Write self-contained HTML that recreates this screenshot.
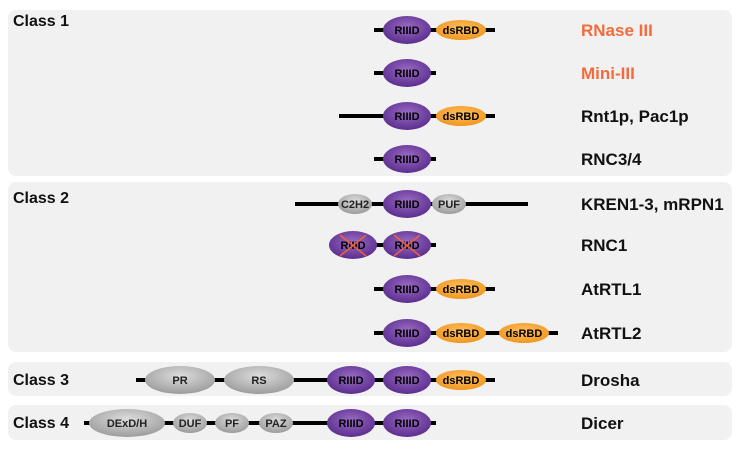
<!DOCTYPE html><html><head><style>body{margin:0;background:#fff}svg{display:block}</style></head><body>
<svg width="740" height="453" viewBox="0 0 740 453" xmlns="http://www.w3.org/2000/svg" font-family="Liberation Sans, sans-serif" font-weight="bold">
<defs>
<radialGradient id="p" cx="50%" cy="40%" r="60%"><stop offset="0" stop-color="#9a6cc4"/><stop offset="1" stop-color="#5b2d8e"/></radialGradient>
<radialGradient id="o" cx="50%" cy="40%" r="60%"><stop offset="0" stop-color="#ffc060"/><stop offset="1" stop-color="#f0961e"/></radialGradient>
<radialGradient id="g" cx="50%" cy="35%" r="65%"><stop offset="0" stop-color="#dcdcdc"/><stop offset="1" stop-color="#9c9c9c"/></radialGradient>
</defs>
<rect x="8" y="10" width="724" height="166" rx="8" fill="#f1f1f1"/>
<rect x="8" y="182" width="724" height="170" rx="8" fill="#f1f1f1"/>
<rect x="8" y="362" width="724" height="34" rx="8" fill="#f1f1f1"/>
<rect x="8" y="405" width="724" height="35" rx="8" fill="#f1f1f1"/>
<g font-size="16" fill="#111">
<text x="13" y="26">Class 1</text><text x="13" y="203">Class 2</text><text x="13" y="385">Class 3</text><text x="13" y="428">Class 4</text>
</g>
<g font-size="17" fill="#111">
<text x="581" y="36" fill="#f26b3a">RNase III</text>
<text x="581" y="79" fill="#f26b3a">Mini-III</text>
<text x="581" y="122">Rnt1p, Pac1p</text>
<text x="581" y="165">RNC3/4</text>
<text x="581" y="210">KREN1-3, mRPN1</text>
<text x="581" y="251">RNC1</text>
<text x="581" y="295">AtRTL1</text>
<text x="581" y="339">AtRTL2</text>
<text x="581" y="386">Drosha</text>
<text x="581" y="429">Dicer</text>
</g>
<g stroke="#000" stroke-width="4">
<line x1="374" y1="30" x2="495" y2="30"/><line x1="374" y1="73" x2="436" y2="73"/>
<line x1="339" y1="116" x2="495" y2="116"/><line x1="374" y1="159" x2="436" y2="159"/>
<line x1="295" y1="204" x2="528" y2="204"/><line x1="330" y1="245" x2="436" y2="245"/>
<line x1="374" y1="289" x2="495" y2="289"/><line x1="374" y1="333" x2="558" y2="333"/>
<line x1="136" y1="380" x2="495" y2="380"/><line x1="84" y1="423" x2="436" y2="423"/>
</g>
<g font-size="11" text-anchor="middle">
<g fill="url(#p)">
<ellipse cx="407" cy="30" rx="24" ry="14"/><ellipse cx="407" cy="73" rx="24" ry="14"/><ellipse cx="407" cy="116" rx="24" ry="14"/><ellipse cx="407" cy="159" rx="24" ry="14"/>
<ellipse cx="407" cy="204" rx="24" ry="14"/><ellipse cx="353" cy="245" rx="24" ry="14"/><ellipse cx="407" cy="245" rx="24" ry="14"/>
<ellipse cx="407" cy="289" rx="24" ry="14"/><ellipse cx="407" cy="333" rx="24" ry="14"/>
<ellipse cx="351" cy="380" rx="24" ry="14"/><ellipse cx="407" cy="380" rx="24" ry="14"/>
<ellipse cx="351" cy="423" rx="24" ry="14"/><ellipse cx="407" cy="423" rx="24" ry="14"/>
</g>
<g fill="#000">
<text x="407" y="34">RIIID</text><text x="407" y="77">RIIID</text><text x="407" y="120">RIIID</text><text x="407" y="163">RIIID</text>
<text x="407" y="208">RIIID</text><text x="353" y="249">RIIID</text><text x="407" y="249">RIIID</text>
<text x="407" y="293">RIIID</text><text x="407" y="337">RIIID</text>
<text x="351" y="384">RIIID</text><text x="407" y="384">RIIID</text><text x="351" y="427">RIIID</text><text x="407" y="427">RIIID</text>
</g>
<g stroke="#f2603a" stroke-width="1.5">
<line x1="340" y1="235" x2="366" y2="256"/><line x1="366" y1="235" x2="340" y2="256"/>
<line x1="394" y1="235" x2="420" y2="256"/><line x1="420" y1="235" x2="394" y2="256"/>
</g>
<g fill="url(#o)">
<ellipse cx="461" cy="30" rx="25" ry="10"/><ellipse cx="461" cy="116" rx="25" ry="10"/><ellipse cx="461" cy="289" rx="25" ry="10"/>
<ellipse cx="461" cy="333" rx="25" ry="10"/><ellipse cx="524" cy="333" rx="25" ry="10"/><ellipse cx="461" cy="380" rx="25" ry="10"/>
</g>
<g fill="#000">
<text x="461" y="34">dsRBD</text><text x="461" y="120">dsRBD</text><text x="461" y="293">dsRBD</text>
<text x="461" y="337">dsRBD</text><text x="524" y="337">dsRBD</text><text x="461" y="384">dsRBD</text>
</g>
<g fill="url(#g)">
<ellipse cx="355" cy="204" rx="17" ry="10"/><ellipse cx="449" cy="204" rx="17" ry="10"/>
<ellipse cx="180" cy="380" rx="35" ry="14"/><ellipse cx="259" cy="380" rx="35" ry="14"/>
<ellipse cx="127" cy="423" rx="38" ry="14"/><ellipse cx="190" cy="423" rx="17" ry="10"/><ellipse cx="232" cy="423" rx="17" ry="10"/><ellipse cx="276" cy="423" rx="17" ry="10"/>
</g>
<g fill="#222">
<text x="355" y="208">C2H2</text><text x="449" y="208">PUF</text>
<text x="180" y="384">PR</text><text x="259" y="384">RS</text>
<text x="127" y="427">DExD/H</text><text x="190" y="427">DUF</text><text x="232" y="427">PF</text><text x="276" y="427">PAZ</text>
</g>
</g>
</svg>
</body></html>
